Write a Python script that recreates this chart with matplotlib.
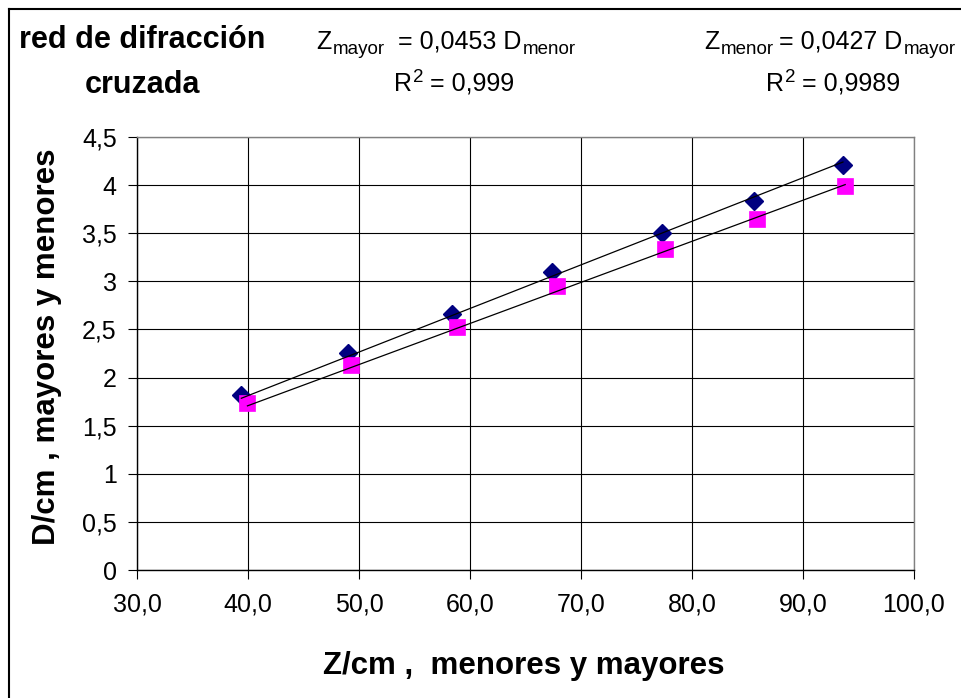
import matplotlib
matplotlib.use("Agg")
import matplotlib.pyplot as plt
from matplotlib.lines import Line2D

plt.rcParams['font.family'] = ['Liberation Sans', 'DejaVu Sans']

# ---- data ----
z_mayor = [39.4, 49.0, 58.4, 67.4, 77.3, 85.6, 93.6]
d_mayor = [1.82, 2.26, 2.66, 3.10, 3.50, 3.83, 4.21]
z_menor = [39.95, 49.3, 58.8, 67.8, 77.6, 85.9, 93.8]
d_menor = [1.74, 2.13, 2.53, 2.95, 3.34, 3.65, 3.99]
slope_mayor = 0.0453
slope_menor = 0.0427

x_ticks = [30, 40, 50, 60, 70, 80, 90, 100]
x_tick_labels = ['30,0', '40,0', '50,0', '60,0', '70,0', '80,0', '90,0', '100,0']
y_ticks = [0, 0.5, 1, 1.5, 2, 2.5, 3, 3.5, 4, 4.5]
y_tick_labels = ['0', '0,5', '1', '1,5', '2', '2,5', '3', '3,5', '4', '4,5']

W, H = 962, 698
fig = plt.figure(figsize=(W / 100, H / 100), dpi=100)
fig.patch.set_facecolor('white')
renderer = fig.canvas.get_renderer()

# outer frame (left + top visible)
fig.add_artist(Line2D([9 / W, 9 / W], [0, 1 - 9 / H], transform=fig.transFigure,
                      color='black', lw=1.5))
fig.add_artist(Line2D([9 / W, 1], [1 - 9 / H, 1 - 9 / H], transform=fig.transFigure,
                      color='black', lw=1.5))

ax = fig.add_axes([137 / W, 1 - 570 / H, (914 - 137) / W, (570 - 137) / H])
ax.set_xlim(30, 100)
ax.set_ylim(0, 4.5)
ax.set_xticks(x_ticks)
ax.set_xticklabels(x_tick_labels)
ax.set_yticks(y_ticks)
ax.set_yticklabels(y_tick_labels)
ax.tick_params(axis='both', direction='out', length=6.5, width=0.8, color='black',
               labelsize=18, colors='black')
ax.tick_params(axis='x', pad=10)
ax.tick_params(axis='y', pad=8)
ax.grid(True, color='black', lw=0.8)
ax.set_axisbelow(True)
for s in ['top', 'right']:
    ax.spines[s].set_color('#808080')
    ax.spines[s].set_linewidth(1.0)
for s in ['left', 'bottom']:
    ax.spines[s].set_color('black')
    ax.spines[s].set_linewidth(1.0)

ax.plot(z_mayor, d_mayor, linestyle='none', marker='D', markersize=9,
        markerfacecolor='#000080', markeredgecolor='#000080', zorder=3, clip_on=False)
ax.plot(z_menor, d_menor, linestyle='none', marker='s', markersize=11,
        markerfacecolor='#FF00FF', markeredgecolor='#FF00FF', markeredgewidth=0.5,
        zorder=3, clip_on=False)

xm = [min(z_mayor), max(z_mayor)]
ax.plot(xm, [slope_mayor * v for v in xm], color='black', lw=0.9, zorder=4)
xn = [min(z_menor), max(z_menor)]
ax.plot(xn, [slope_menor * v for v in xn], color='black', lw=0.9, zorder=4)


def ftext(x, y, s, **kw):
    return fig.text(x / W, 1 - y / H, s, **kw)


def seq_text(xc, base, pieces):
    """pieces: (text, fontsize, dy_px, gap_before_px)"""
    arts = []
    widths = []
    for txt, fs, dy, gap in pieces:
        t = ftext(0, base + dy, txt, fontsize=fs, ha='left', va='baseline')
        bb = t.get_window_extent(renderer)
        arts.append(t)
        widths.append(bb.width)
    total = sum(widths) + sum(p[3] for p in pieces)
    x = xc - total / 2
    for t, w, p in zip(arts, widths, pieces):
        x += p[3]
        t.set_x(x / W)
        x += w


ftext(142, 48, 'red de difracción', fontsize=22, fontweight='bold', ha='center', va='baseline')
ftext(143, 93, 'cruzada', fontsize=22, fontweight='bold', ha='center', va='baseline')

MS, SS, SD = 18, 13.5, 5
seq_text(446, 49, [('Z', MS, 0, 0), ('mayor', SS, SD, 1), ('= 0,0453 D', MS, 0, 14),
                   ('menor', SS, SD, 1)])
seq_text(454, 91, [('R', MS, 0, 0), ('2', SS, -9, 1), ('= 0,999', MS, 0, 6)])
seq_text(830, 49, [('Z', MS, 0, 0), ('menor', SS, SD, 1), ('= 0,0427 D', MS, 0, 6),
                   ('mayor', SS, SD, 1)])
seq_text(833, 91, [('R', MS, 0, 0), ('2', SS, -9, 1), ('= 0,9989', MS, 0, 6)])

ftext(524, 674, 'Z/cm ,  menores y mayores', fontsize=22.5, fontweight='bold',
      ha='center', va='baseline')
ftext(47, 347, 'D/cm , mayores y menores', fontsize=22.5, fontweight='bold',
      ha='center', va='center', rotation=90)

fig.savefig('out.png', dpi=100, facecolor='white')
